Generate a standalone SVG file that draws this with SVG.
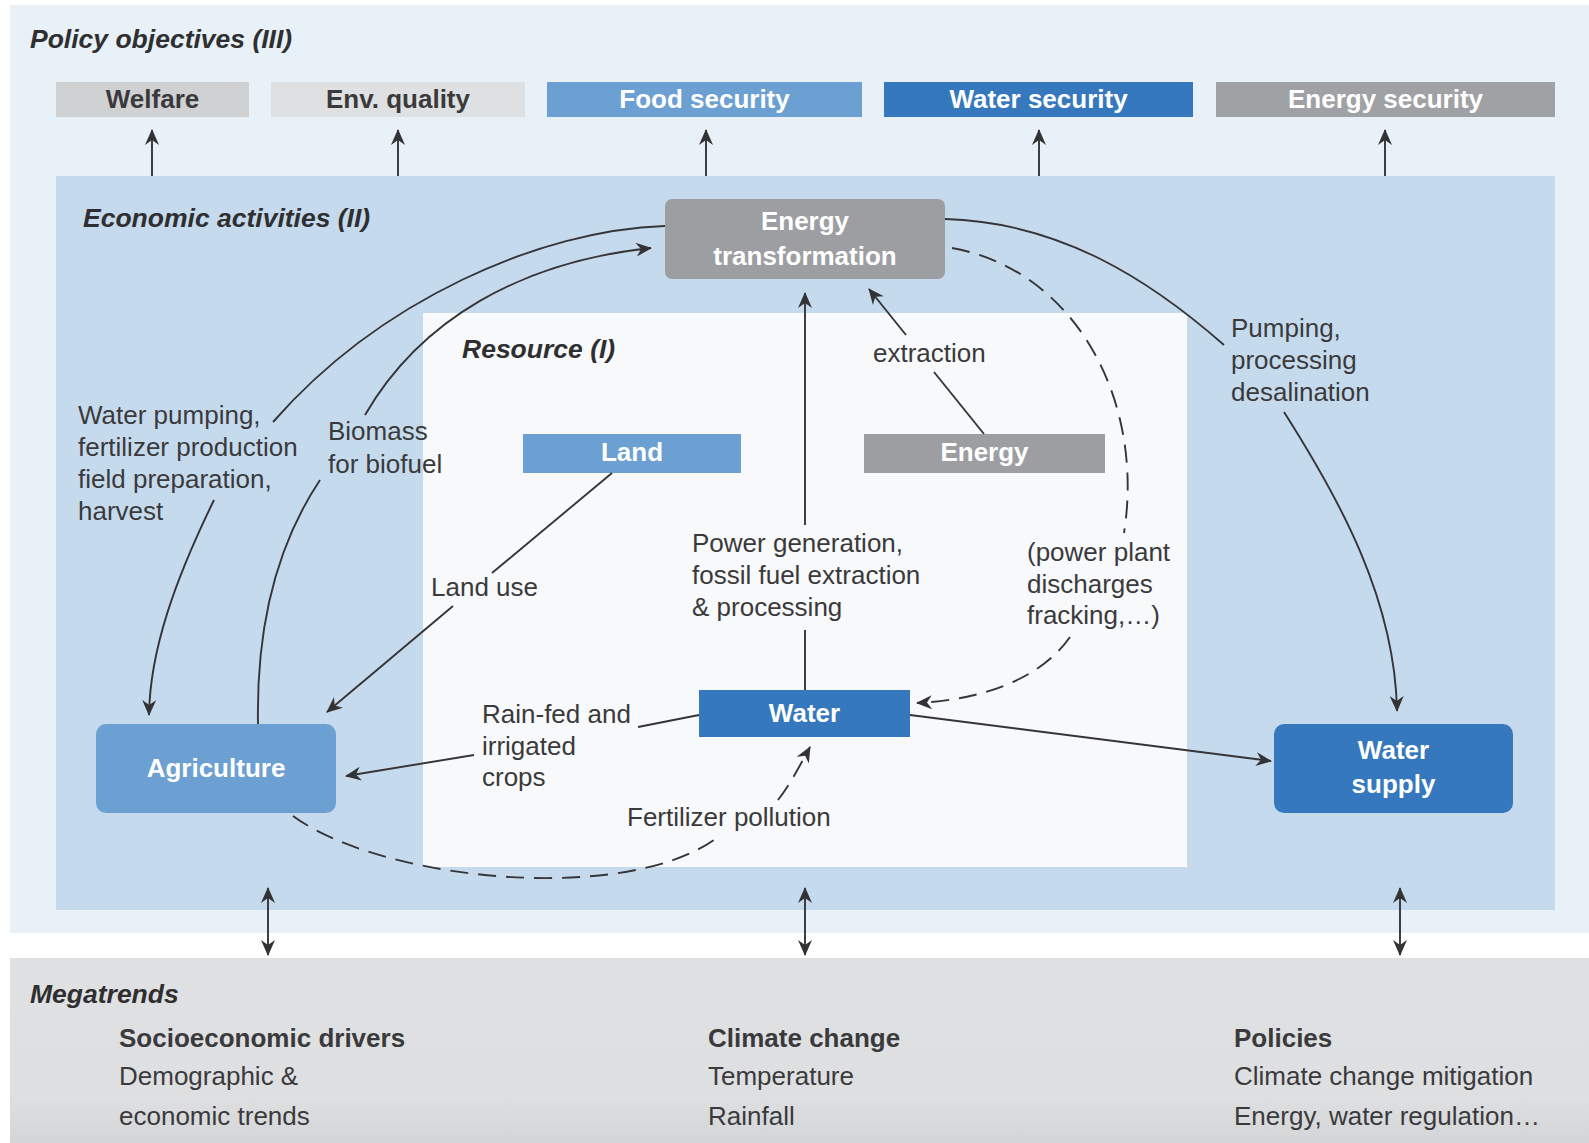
<svg xmlns="http://www.w3.org/2000/svg" width="1589" height="1143" viewBox="0 0 1589 1143">
  <style>
    .t { font-family: "Liberation Sans", Arial, sans-serif; font-size: 26px; fill: #3a3a3c; }
    .hd { font-family: "Liberation Sans", Arial, sans-serif; font-size: 26.5px; font-weight: bold; font-style: italic; fill: #2f2f31; }
    .bh { font-family: "Liberation Sans", Arial, sans-serif; font-size: 26px; font-weight: bold; fill: #3a3a3c; }
    .bl { font-family: "Liberation Sans", Arial, sans-serif; font-size: 26px; font-weight: bold; fill: #ffffff; text-anchor: middle; }
    .bd { font-family: "Liberation Sans", Arial, sans-serif; font-size: 26px; font-weight: bold; fill: #3a3a3c; text-anchor: middle; }
    .ln { fill: none; stroke: #353537; stroke-width: 1.9; }
    .ar { marker-end: url(#arrow); }
    .dash { stroke-dasharray: 18 10; }
    .dbl { marker-start: url(#arrow); marker-end: url(#arrow); }
  </style>
  <defs>
    <marker id="arrow" viewBox="0 0 16 14" refX="15" refY="7" markerWidth="16" markerHeight="14" markerUnits="userSpaceOnUse" orient="auto-start-reverse">
      <path d="M0,0 L16,7 L0,14 L5,7 z" fill="#333335"/>
    </marker>
    <linearGradient id="mg" x1="0" y1="0" x2="0" y2="1">
      <stop offset="0" stop-color="#e0e1e3"/>
      <stop offset="0.75" stop-color="#dedfe1"/>
      <stop offset="1" stop-color="#d4d5d7"/>
    </linearGradient>
  </defs>

  <!-- panels -->
  <g id="panels">
    <rect x="0" y="0" width="1589" height="1143" fill="#ffffff"/>
    <rect x="10" y="5" width="1579" height="928" fill="#e8f0f8"/>
    <rect x="56" y="176" width="1499" height="734" fill="#c6daee"/>
    <rect x="423" y="313" width="764" height="554" fill="#f8f9fa"/>
    <rect x="10" y="958" width="1579" height="185" fill="url(#mg)"/>
  </g>

  <!-- section titles -->
  <g id="titles">
    <text class="hd" x="30" y="48">Policy objectives (III)</text>
    <text class="hd" x="83" y="227">Economic activities (II)</text>
    <text class="hd" x="462" y="358">Resource (I)</text>
    <text class="hd" x="30" y="1003">Megatrends</text>
  </g>

  <!-- policy objectives -->
  <g id="welfare">
    <rect x="56" y="82" width="193" height="35" fill="#d0d1d3"/>
    <text class="bd" x="152.5" y="108">Welfare</text>
  </g>
  <g id="env-quality">
    <rect x="271" y="82" width="254" height="35" fill="#dfe0e2"/>
    <text class="bd" x="398" y="108">Env. quality</text>
  </g>
  <g id="food-security">
    <rect x="547" y="82" width="315" height="35" fill="#6ca0d2"/>
    <text class="bl" x="704.5" y="108">Food security</text>
  </g>
  <g id="water-security">
    <rect x="884" y="82" width="309" height="35" fill="#3578be"/>
    <text class="bl" x="1038.5" y="108">Water security</text>
  </g>
  <g id="energy-security">
    <rect x="1216" y="82" width="339" height="35" fill="#a0a1a4"/>
    <text class="bl" x="1385.5" y="108">Energy security</text>
  </g>

  <!-- economic activities -->
  <g id="energy-transformation">
    <rect x="665" y="199" width="280" height="80" rx="7" fill="#9d9ea1"/>
    <text class="bl" x="805" y="230">Energy</text>
    <text class="bl" x="805" y="265">transformation</text>
  </g>
  <g id="agriculture">
    <rect x="96" y="724" width="240" height="89" rx="10" fill="#6ca0d2"/>
    <text class="bl" x="216" y="777">Agriculture</text>
  </g>
  <g id="water-supply">
    <rect x="1274" y="724" width="239" height="89" rx="10" fill="#3578be"/>
    <text class="bl" x="1393.5" y="759">Water</text>
    <text class="bl" x="1393.5" y="793">supply</text>
  </g>

  <!-- resources -->
  <g id="land">
    <rect x="523" y="434" width="218" height="39" fill="#6ca0d2"/>
    <text class="bl" x="632" y="461">Land</text>
  </g>
  <g id="energy">
    <rect x="864" y="434" width="241" height="39" fill="#9d9ea1"/>
    <text class="bl" x="984.5" y="461">Energy</text>
  </g>
  <g id="water">
    <rect x="699" y="690" width="211" height="47" fill="#3578be"/>
    <text class="bl" x="804.5" y="722">Water</text>
  </g>

  <!-- connectors -->
  <g id="connectors">
    <!-- up to policy objectives -->
    <line class="ln ar" x1="152" y1="176" x2="152" y2="130"/>
    <line class="ln ar" x1="398" y1="176" x2="398" y2="130"/>
    <line class="ln ar" x1="706" y1="176" x2="706" y2="130"/>
    <line class="ln ar" x1="1039" y1="176" x2="1039" y2="130"/>
    <line class="ln ar" x1="1385" y1="176" x2="1385" y2="130"/>

    <!-- energy transformation -> agriculture -->
    <path class="ln" d="M665,226 C540,230 380,300 273,422"/>
    <path class="ln ar" d="M214,500 C175,580 150,650 149,715"/>

    <!-- agriculture -> energy transformation (biomass) -->
    <path class="ln" d="M258,724 C256,620 280,540 320,480"/>
    <path class="ln ar" d="M365,415 C420,320 520,262 651,248"/>

    <!-- energy transformation -> water supply -->
    <path class="ln" d="M945,219 C1060,222 1150,280 1224,345"/>
    <path class="ln ar" d="M1284,412 C1340,500 1395,600 1397,711"/>

    <!-- land -> agriculture -->
    <line class="ln" x1="612" y1="473" x2="492" y2="573"/>
    <line class="ln ar" x1="453" y1="606" x2="327" y2="712"/>

    <!-- water -> energy transformation -->
    <line class="ln" x1="805" y1="690" x2="805" y2="630"/>
    <line class="ln ar" x1="805" y1="525" x2="805" y2="293"/>

    <!-- energy -> energy transformation (extraction) -->
    <line class="ln" x1="984" y1="434" x2="934" y2="372"/>
    <line class="ln ar" x1="906" y1="335" x2="869" y2="289"/>

    <!-- energy transformation -> water (dashed) -->
    <path class="ln dash" d="M952,248 C1075,270 1145,400 1124,533"/>
    <path class="ln dash ar" d="M1070,637 C1040,680 980,700 917,703"/>

    <!-- water -> agriculture -->
    <line class="ln" x1="699" y1="715" x2="638" y2="727"/>
    <line class="ln ar" x1="474" y1="755" x2="346" y2="776"/>

    <!-- water -> water supply -->
    <line class="ln ar" x1="910" y1="715" x2="1271" y2="761"/>

    <!-- agriculture -> water (fertilizer pollution, dashed) -->
    <path class="ln dash" d="M293,816 C380,880 620,905 714,840"/>
    <path class="ln dash ar" d="M778,800 C790,785 800,765 810,747"/>

    <!-- megatrends double arrows -->
    <line class="ln dbl" x1="268" y1="888" x2="268" y2="955"/>
    <line class="ln dbl" x1="805" y1="888" x2="805" y2="955"/>
    <line class="ln dbl" x1="1400" y1="888" x2="1400" y2="955"/>
  </g>

  <!-- connector labels -->
  <g id="labels">
    <text class="t" x="78" y="424">Water pumping,</text>
    <text class="t" x="78" y="456">fertilizer production</text>
    <text class="t" x="78" y="488">field preparation,</text>
    <text class="t" x="78" y="520">harvest</text>

    <text class="t" x="328" y="440">Biomass</text>
    <text class="t" x="328" y="473">for biofuel</text>

    <text class="t" x="431" y="596">Land use</text>

    <text class="t" x="692" y="552">Power generation,</text>
    <text class="t" x="692" y="584">fossil fuel extraction</text>
    <text class="t" x="692" y="616">&amp; processing</text>

    <text class="t" x="873" y="362">extraction</text>

    <text class="t" x="1231" y="337">Pumping,</text>
    <text class="t" x="1231" y="369">processing</text>
    <text class="t" x="1231" y="401">desalination</text>

    <text class="t" x="1027" y="561">(power plant</text>
    <text class="t" x="1027" y="593">discharges</text>
    <text class="t" x="1027" y="624">fracking,…)</text>

    <text class="t" x="482" y="723">Rain-fed and</text>
    <text class="t" x="482" y="755">irrigated</text>
    <text class="t" x="482" y="786">crops</text>

    <text class="t" x="627" y="826">Fertilizer pollution</text>
  </g>

  <!-- megatrends -->
  <g id="megatrends">
    <text class="bh" x="119" y="1047">Socioeconomic drivers</text>
    <text class="t" x="119" y="1085">Demographic &amp;</text>
    <text class="t" x="119" y="1125">economic trends</text>

    <text class="bh" x="708" y="1047">Climate change</text>
    <text class="t" x="708" y="1085">Temperature</text>
    <text class="t" x="708" y="1125">Rainfall</text>

    <text class="bh" x="1234" y="1047">Policies</text>
    <text class="t" x="1234" y="1085">Climate change mitigation</text>
    <text class="t" x="1234" y="1125">Energy, water regulation…</text>
  </g>
</svg>
